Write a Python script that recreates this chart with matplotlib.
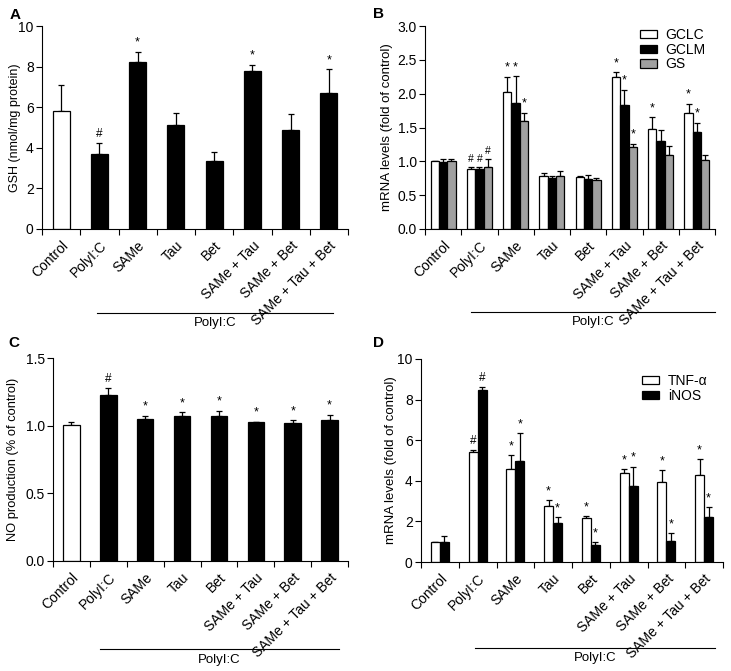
import numpy as np
import matplotlib
matplotlib.use("Agg")
import matplotlib.pyplot as plt
import matplotlib.transforms as mtransforms

plt.rcParams['font.family'] = ['Liberation Sans', 'DejaVu Sans']
plt.rcParams['font.size'] = 9

groups = ["Control", "PolyI:C", "SAMe", "Tau", "Bet",
          "SAMe + Tau", "SAMe + Bet", "SAMe + Tau + Bet"]

# panel A: GSH
gsh = [5.81, 3.69, 8.24, 5.10, 3.37, 7.78, 4.88, 6.72]
gsh_err = [1.28, 0.56, 0.50, 0.63, 0.44, 0.30, 0.77, 1.15]
gsh_mark = ["", "#", "*", "", "", "*", "", "*"]

# panel B: mRNA of GCLC / GCLM / GS
gclc = [1.00, 0.89, 2.03, 0.79, 0.77, 2.25, 1.48, 1.72]
gclc_err = [0.01, 0.02, 0.22, 0.04, 0.02, 0.07, 0.17, 0.13]
gclc_mark = ["", "#", "*", "", "", "*", "*", "*"]
gclm = [0.99, 0.89, 1.86, 0.76, 0.74, 1.83, 1.30, 1.43]
gclm_err = [0.05, 0.03, 0.40, 0.02, 0.06, 0.23, 0.16, 0.14]
gclm_mark = ["", "#", "*", "", "", "*", "", "*"]
gs = [1.00, 0.92, 1.59, 0.78, 0.73, 1.21, 1.10, 1.02]
gs_err = [0.04, 0.11, 0.13, 0.07, 0.03, 0.05, 0.12, 0.08]
gs_mark = ["", "#", "*", "", "", "*", "", ""]

# panel C: NO production
no_prod = [1.005, 1.23, 1.05, 1.07, 1.07, 1.03, 1.02, 1.045]
no_err = [0.025, 0.05, 0.025, 0.03, 0.04, 0.0, 0.02, 0.035]
no_mark = ["", "#", "*", "*", "*", "*", "*", "*"]

# panel D: TNF-a / iNOS
tnf = [0.98, 5.42, 4.58, 2.77, 2.15, 4.38, 3.95, 4.30]
tnf_err = [0.0, 0.08, 0.69, 0.26, 0.10, 0.18, 0.58, 0.77]
tnf_mark = ["", "#", "*", "*", "*", "*", "*", "*"]
inos = [0.97, 8.45, 4.98, 1.90, 0.85, 3.75, 1.05, 2.22]
inos_err = [0.30, 0.17, 1.37, 0.30, 0.13, 0.95, 0.37, 0.48]
inos_mark = ["", "#", "*", "*", "*", "*", "*", "*"]

W, H = 731, 671
fig = plt.figure(figsize=(W / 100, H / 100), dpi=100)


def px_axes(l, r, t, b):
    return fig.add_axes([l / W, 1 - b / H, (r - l) / W, (b - t) / H])


def style(ax, ymax, yticks, fmt):
    n = len(groups)
    ax.set_xlim(-0.5, n - 0.5)
    ax.set_ylim(0, ymax)
    for s in ["top", "right"]:
        ax.spines[s].set_visible(False)
    ax.spines["left"].set_bounds(0, ymax)
    ax.set_yticks(yticks)
    ax.set_yticklabels([fmt % v for v in yticks], fontsize=10)
    ax.set_xticks(np.arange(n + 1) - 0.5)
    ax.set_xticklabels([])
    ax.set_xticks(np.arange(n), minor=True)
    ax.set_xticklabels(groups, minor=True, rotation=45, ha="right",
                       rotation_mode="anchor", fontsize=10)
    ax.tick_params(axis="x", which="minor", length=0, pad=7)
    ax.tick_params(axis="both", which="major", direction="out", length=4,
                   width=0.8)
    ax.tick_params(axis="y", pad=2)


def bars(ax, x, vals, errs, marks, width, color, ymax, hash_size=8.5):
    ax.bar(x, vals, width, color=color, edgecolor="black", linewidth=0.9,
           zorder=2)
    ax.errorbar(x, vals, yerr=[np.zeros(len(vals)), errs], fmt="none",
                ecolor="black", elinewidth=0.9, capsize=2.5, capthick=0.9,
                zorder=1)
    for xi, v, e, m in zip(x, vals, errs, marks):
        if m:
            ax.text(xi, v + e + ymax * 0.015, m, ha="center", va="bottom",
                    fontsize=9 if m == "*" else hash_size)


def polyic(ax, x0, x1, yl, ytxt):
    tr = mtransforms.blended_transform_factory(ax.transData, ax.transAxes)
    ax.plot([x0, x1], [yl, yl], color="black", lw=0.8, transform=tr,
            clip_on=False)
    ax.text((x0 + x1) / 2, ytxt, "PolyI:C", transform=tr, ha="center",
            va="center", fontsize=9.5)


def legend(ax, colors, labels, xa, ya):
    hs = [plt.Rectangle((0, 0), 1, 1, fc=c, ec="black", lw=0.9)
          for c in colors]
    ax.legend(hs, labels, loc="upper left", frameon=False, fontsize=10,
              handlelength=1.25, handleheight=0.55, handletextpad=0.6,
              labelspacing=0.05, borderaxespad=0, borderpad=0,
              bbox_to_anchor=(xa, ya))


def ylab(ax, text, size, xc):
    ax.set_ylabel(text, fontsize=size, va="center")
    ax.yaxis.set_label_coords(xc, 0.5)


x = np.arange(len(groups))
bar_colors = ["white"] + ["black"] * 7

# A
axA = px_axes(42, 348, 26, 229)
style(axA, 10, [0, 2, 4, 6, 8, 10], "%d")
for i in range(len(groups)):
    bars(axA, [x[i]], [gsh[i]], [gsh_err[i]], [gsh_mark[i]], 0.45,
         bar_colors[i], 10)
ylab(axA, "GSH (nmol/mg protein)", 9, -0.088)
polyic(axA, 0.94, 7.12, -0.414, -0.465)

# B
axB = px_axes(425, 715, 26, 229)
style(axB, 3.0, [0, 0.5, 1.0, 1.5, 2.0, 2.5, 3.0], "%.1f")
bw = 0.23
bars(axB, x - bw, gclc, gclc_err, gclc_mark, bw, "white", 3.0, 7.5)
bars(axB, x, gclm, gclm_err, gclm_mark, bw, "black", 3.0, 7.5)
bars(axB, x + bw, gs, gs_err, gs_mark, bw, "#a0a0a0", 3.0, 7.5)
ylab(axB, "mRNA levels (fold of control)", 9.5, -0.131)
legend(axB, ["white", "black", "#a0a0a0"], ["GCLC", "GCLM", "GS"],
       0.741, 0.99)
polyic(axB, 0.77, 7.5, -0.409, -0.46)

# C
axC = px_axes(53, 348, 358, 561)
style(axC, 1.5, [0, 0.5, 1.0, 1.5], "%.1f")
for i in range(len(groups)):
    bars(axC, [x[i]], [no_prod[i]], [no_err[i]], [no_mark[i]], 0.45,
         bar_colors[i], 1.5)
ylab(axC, "NO production (% of control)", 9.3, -0.137)
polyic(axC, 0.77, 7.25, -0.433, -0.49)

# D
axD = px_axes(421, 723, 359, 562)
style(axD, 10, [0, 2, 4, 6, 8, 10], "%d")
bw = 0.24
bars(axD, x - bw / 2, tnf, tnf_err, tnf_mark, bw, "white", 10)
bars(axD, x + bw / 2, inos, inos_err, inos_mark, bw, "black", 10)
ylab(axD, "mRNA levels (fold of control)", 9.5, -0.099)
legend(axD, ["white", "black"], ["TNF-\u03b1", "iNOS"], 0.732, 0.925)
polyic(axD, 0.93, 7.29, -0.424, -0.475)

for lab, (px, py) in zip("ABCD", [(10, 15), (373, 14), (8, 343), (373, 343)]):
    fig.text(px / W, 1 - py / H, lab, fontsize=11, fontweight="bold",
             ha="left", va="center")

fig.savefig("out.png", dpi=100)
